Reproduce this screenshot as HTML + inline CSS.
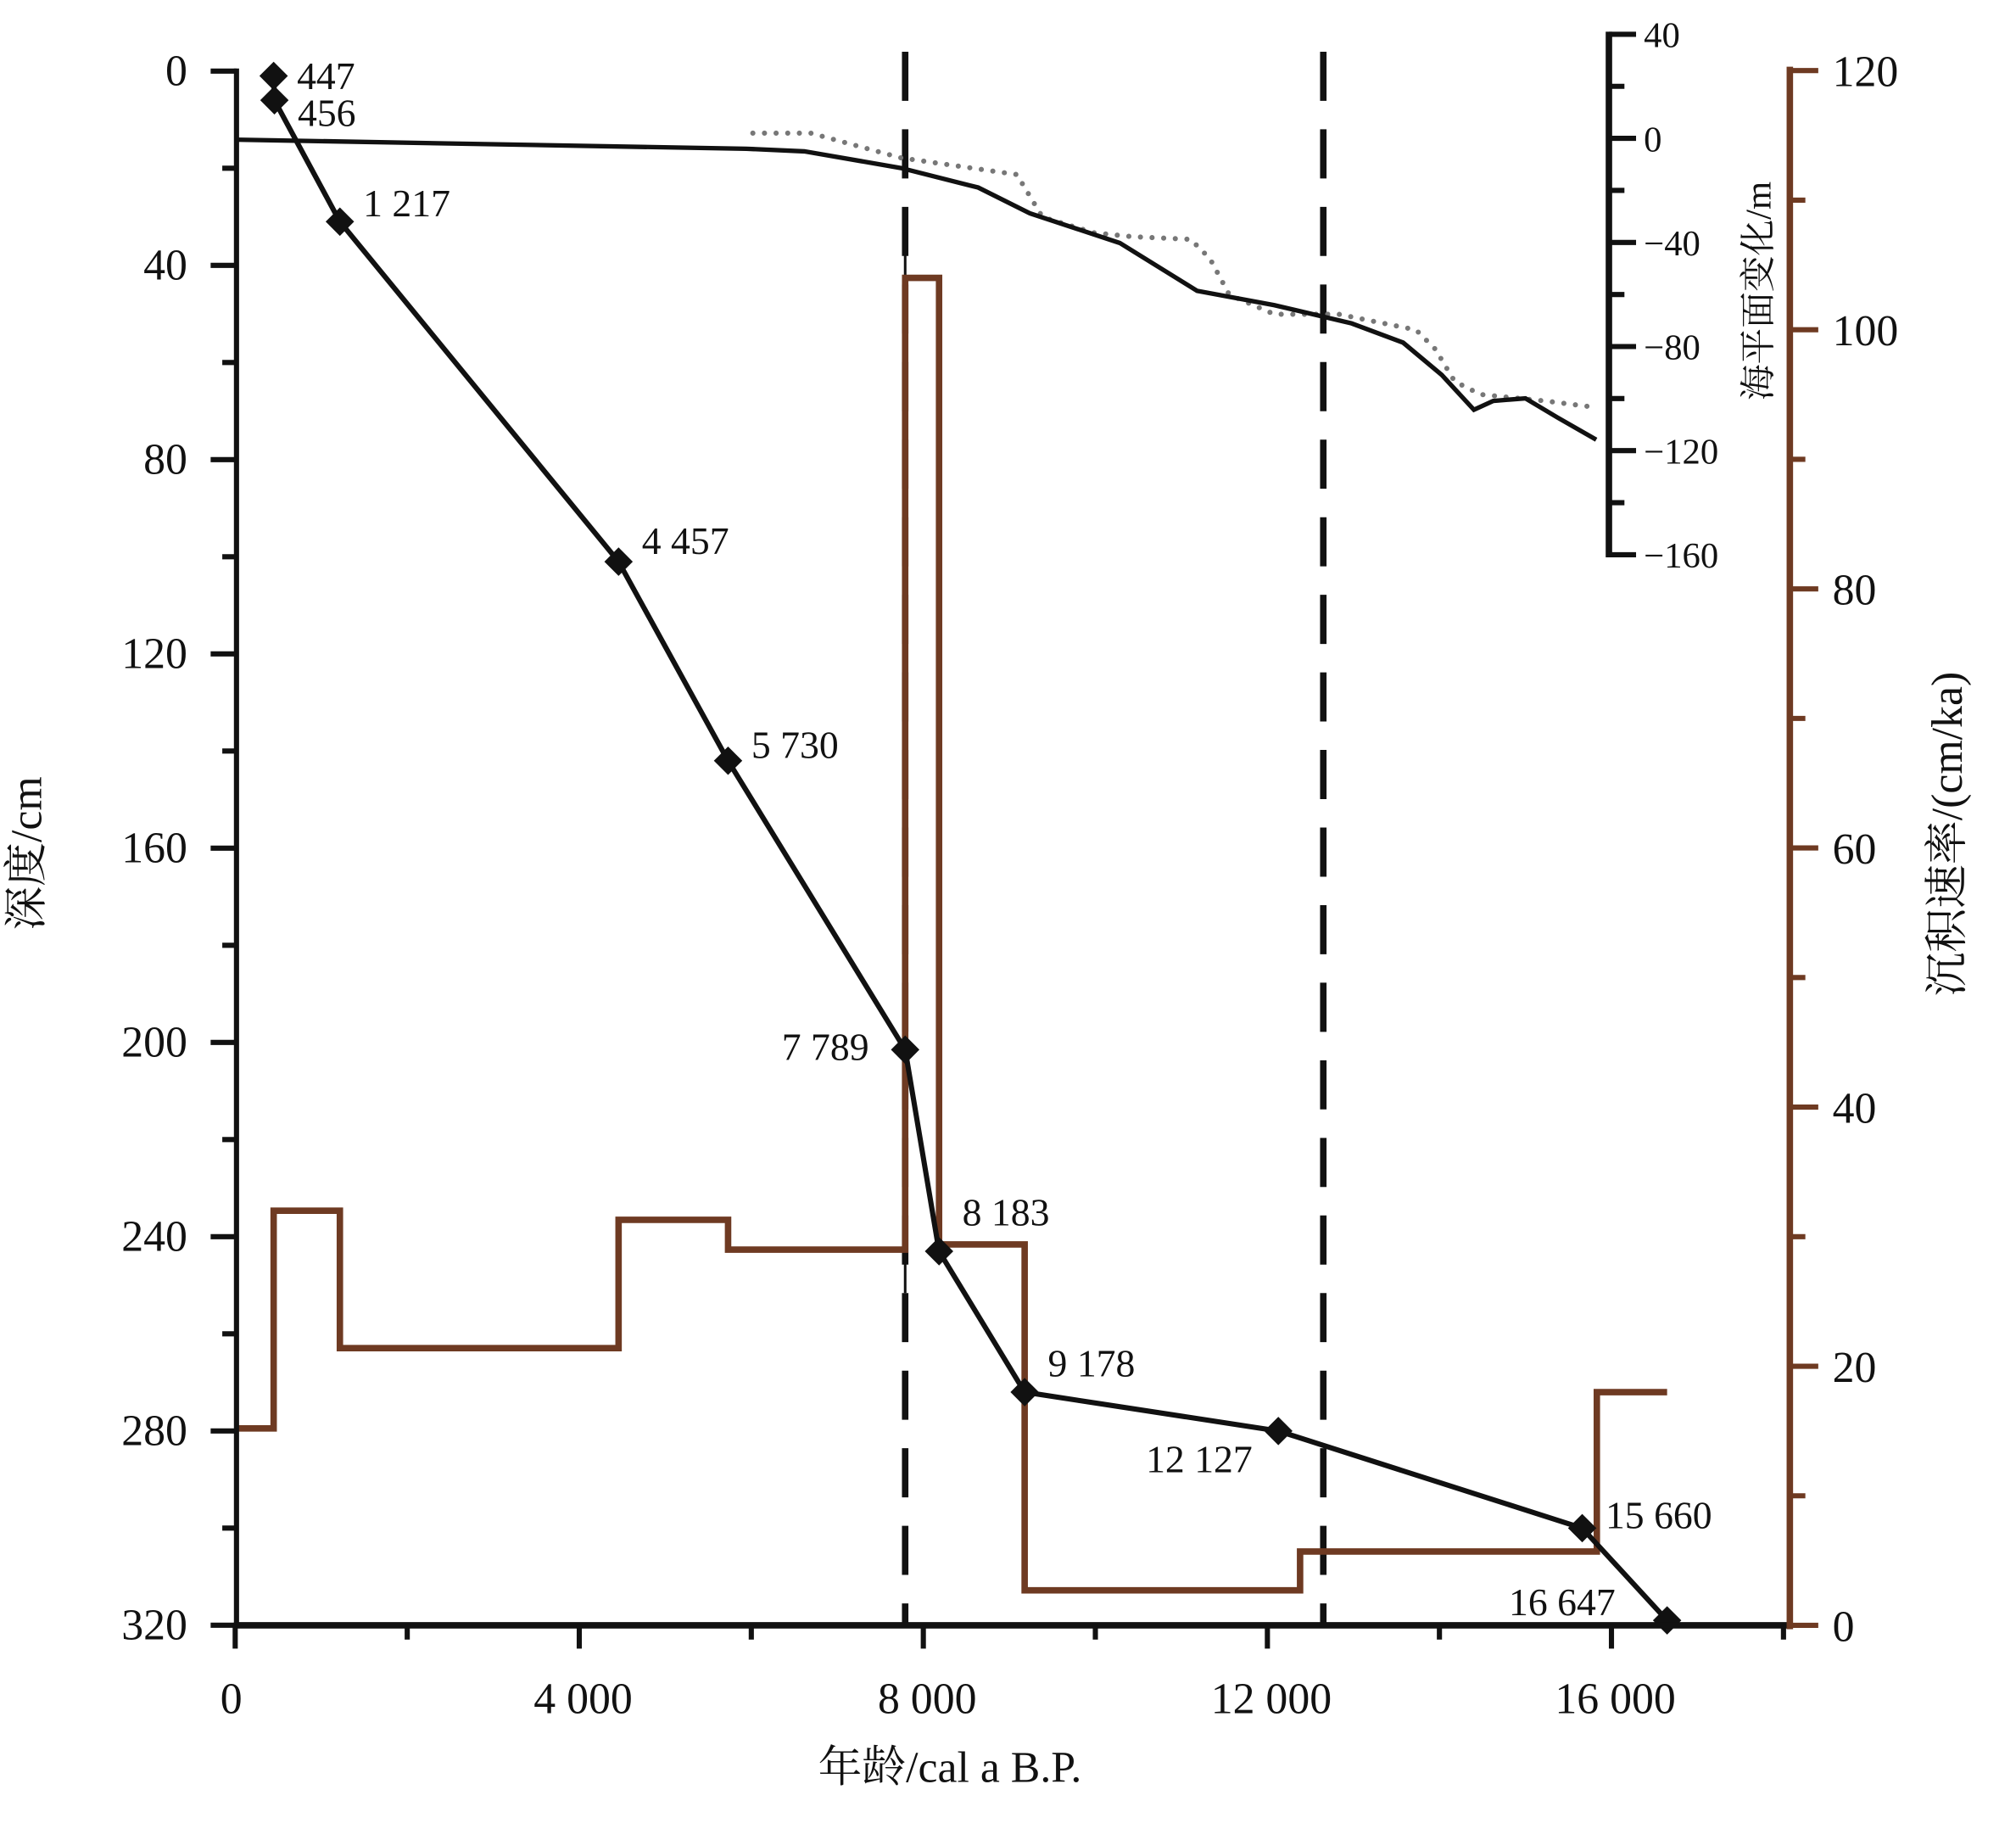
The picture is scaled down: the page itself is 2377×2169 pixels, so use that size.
<!DOCTYPE html>
<html><head><meta charset="utf-8"><style>
html,body{margin:0;padding:0;background:#fff;}
svg{display:block;}
text{font-family:"Liberation Serif","Noto Serif CJK SC",serif;fill:#111;}
</style></head><body>
<svg id="chart" width="2377" height="2169" viewBox="0 0 1560 1423" preserveAspectRatio="none" xmlns="http://www.w3.org/2000/svg"></svg>
<script>
// ---- data ----
const depthAges = [447, 456, 1217, 4457, 5730, 7789, 8183, 9178, 12127, 15660, 16647];
const depthValues = [1, 6, 31, 101, 142, 201.5, 243, 272, 280, 300, 319];
const depthLabels = ["447","456","1 217","4 457","5 730","7 789","8 183","9 178","12 127","15 660","16 647"];
const rateEdges = [0, 447, 1217, 4457, 5730, 7789, 8183, 9178, 12380, 15830, 16647];
const rateValues = [15.2, 32, 21.4, 31.3, 29, 104, 29.4, 2.7, 5.7, 18];
const slSolidAges = [0, 5943, 6617, 7740, 8638, 9237, 10284, 11183, 12081, 12979, 13578, 14027, 14401, 14626, 15000, 15374, 15823];
const slSolidValues = [-0.5, -4, -5, -11.4, -18.9, -28.8, -40.2, -58.6, -64.1, -71.1, -78.5, -90.9, -104.3, -100.9, -99.9, -107.3, -115.8];
const slDotAges = [6018, 6692, 7740, 9087, 9386, 9985, 10434, 11108, 11332, 11557, 12081, 12829, 13728, 13952, 14177, 14476, 15225, 15823];
const slDotValues = [2, 2, -7.5, -13.9, -30.3, -36.3, -37.8, -38.8, -46.2, -60.1, -67.6, -67.6, -73.6, -81, -93.4, -98.4, -100.9, -103.4];
const xTicks = [0, 4000, 8000, 12000, 16000];
const xTickLabels = ["0", "4 000", "8 000", "12 000", "16 000"];
const depthTicks = [0, 40, 80, 120, 160, 200, 240, 280, 320];
const rateTicks = [0, 20, 40, 60, 80, 100, 120];
const slTicks = [40, 0, -40, -80, -120, -160];
const slTickLabels = ["40", "0", "\u221240", "\u221280", "\u2212120", "\u2212160"];
const dividerAges = [7789, 12650];

// ---- scales ----
const X = a => 182 + a * 0.06656;
const YD = d => 55 + d * 3.756;
const YR = r => 1257 - r * 10.02;
const YS = s => 107 - s * 2.0125;
const BROWN = "#6e3a22";
const svg = document.getElementById("chart");
const NS = "http://www.w3.org/2000/svg";
function mk(tag, attrs, parent) {
  const e = document.createElementNS(NS, tag);
  for (const k in attrs) e.setAttribute(k, attrs[k]);
  (parent || svg).appendChild(e);
  return e;
}
function txt(s, x, y, size, anchor, parent) {
  const t = mk("text", {x: x, y: y, "font-size": size, "text-anchor": anchor || "start"}, parent);
  t.textContent = s;
  return t;
}

// divider dashed lines
dividerAges.forEach((a, i) => {
  const l = mk("line", {x1: X(a), x2: X(a), y1: 40, y2: 1257, stroke: "#111", "stroke-width": 5, "stroke-dasharray": "38,22"});
  
  
});
mk("line", {x1: X(7789), x2: X(7789), y1: 180, y2: 1000, stroke: "#111", "stroke-width": 2});

// rate step line
let rp = "M" + X(rateEdges[0]) + "," + YR(rateValues[0]);
for (let i = 0; i < rateValues.length; i++) {
  rp += " L" + X(rateEdges[i]) + "," + YR(rateValues[i]) + " L" + X(rateEdges[i + 1]) + "," + YR(rateValues[i]);
}
const rateLine = mk("path", {d: rp, fill: "none", stroke: BROWN, "stroke-width": 5});



// sea level dotted
const dotPath = mk("path", {d: slDotAges.map((a, i) => (i ? "L" : "M") + X(a) + "," + YS(slDotValues[i])).join(" "), fill: "none", stroke: "#777", "stroke-width": 4, "stroke-dasharray": "0,9", "stroke-linecap": "round"});


// sea level solid
const solidPath = mk("path", {d: slSolidAges.map((a, i) => (i ? "L" : "M") + X(a) + "," + YS(slSolidValues[i])).join(" "), fill: "none", stroke: "#111", "stroke-width": 3.5});



// age-depth line
const adLine = mk("path", {d: depthAges.map((a, i) => (i ? "L" : "M") + X(a) + "," + YD(depthValues[i])).join(" "), fill: "none", stroke: "#111", "stroke-width": 4});


depthAges.forEach((a, i) => {
  const x = X(a), y = YD(depthValues[i]);
  const m = mk("polygon", {points: `${x},${y-11} ${x+11},${y} ${x},${y+11} ${x-11},${y}`, fill: "#111"});
  
  
});
const lblOff = [[18,10],[18,20],[18,-4],[18,-6],[18,-2],[-28,8],[18,-20],[18,-12],[-20,32],[18,0],[-40,-4]];
depthAges.forEach((a, i) => {
  const anchor = (i === 5 || i === 8 || i === 10) ? "end" : "start";
  const t = txt(depthLabels[i], X(a) + lblOff[i][0], YD(depthValues[i]) + lblOff[i][1], 30, anchor);
  
  
});

// left depth axis
const la = mk("g", {});


mk("line", {x1: 183, x2: 183, y1: YD(0) - 2, y2: YD(320) + 2, stroke: "#111", "stroke-width": 4}, la);
for (let d = 0; d <= 320; d += 20) {
  mk("line", {x1: d % 40 === 0 ? 163 : 172, x2: 183, y1: YD(d), y2: YD(d), stroke: "#111", "stroke-width": 4}, la);
}
depthTicks.forEach(d => txt(String(d), 145, YD(d) + 11, 34, "end", la));
const dt = txt("深度/cm", 32, 660, 34, "middle");
dt.setAttribute("transform", "rotate(-90 32 660)");



// bottom x axis
const xa = mk("g", {});


mk("line", {x1: 181, x2: 1387, y1: 1257, y2: 1257, stroke: "#111", "stroke-width": 5}, xa);
for (let a = 0; a <= 18000; a += 2000) {
  mk("line", {x1: X(a), x2: X(a), y1: 1257, y2: a % 4000 === 0 ? 1275 : 1268, stroke: "#111", "stroke-width": 4}, xa);
}
xTicks.forEach((a, i) => txt(xTickLabels[i], X(a) + (i === 0 ? -3 : 3), 1325, 34, "middle", xa));
const xt = txt("年龄/cal a B.P.", 735, 1378, 34, "middle");



// right rate axis
const ra = mk("g", {});


mk("line", {x1: 1385, x2: 1385, y1: YR(120) - 3, y2: YR(0) + 3, stroke: BROWN, "stroke-width": 5}, ra);
for (let r = 0; r <= 120; r += 10) {
  mk("line", {x1: 1385, x2: r % 20 === 0 ? 1407 : 1397, y1: YR(r), y2: YR(r), stroke: BROWN, "stroke-width": 4}, ra);
}
rateTicks.forEach(r => txt(String(r), 1418, YR(r) + 12, 34, "start", ra));
const rt = txt("沉积速率/(cm/ka)", 1518, 645, 34, "middle");
rt.setAttribute("transform", "rotate(-90 1518 645)");



// sea-level axis
const sa = mk("g", {});


mk("line", {x1: 1245, x2: 1245, y1: YS(40) - 2, y2: YS(-160) + 2, stroke: "#111", "stroke-width": 5}, sa);
for (let s = 40; s >= -160; s -= 20) {
  mk("line", {x1: 1245, x2: s % 40 === 0 ? 1266 : 1257, y1: YS(s), y2: YS(s), stroke: "#111", "stroke-width": 4}, sa);
}
slTicks.forEach((s, i) => txt(slTickLabels[i], 1272, YS(s) + 10, 28, "start", sa));
const st = txt("海平面变化/m", 1370, 225, 28, "middle");
st.setAttribute("transform", "rotate(-90 1370 225)");


</script>
</body></html>
